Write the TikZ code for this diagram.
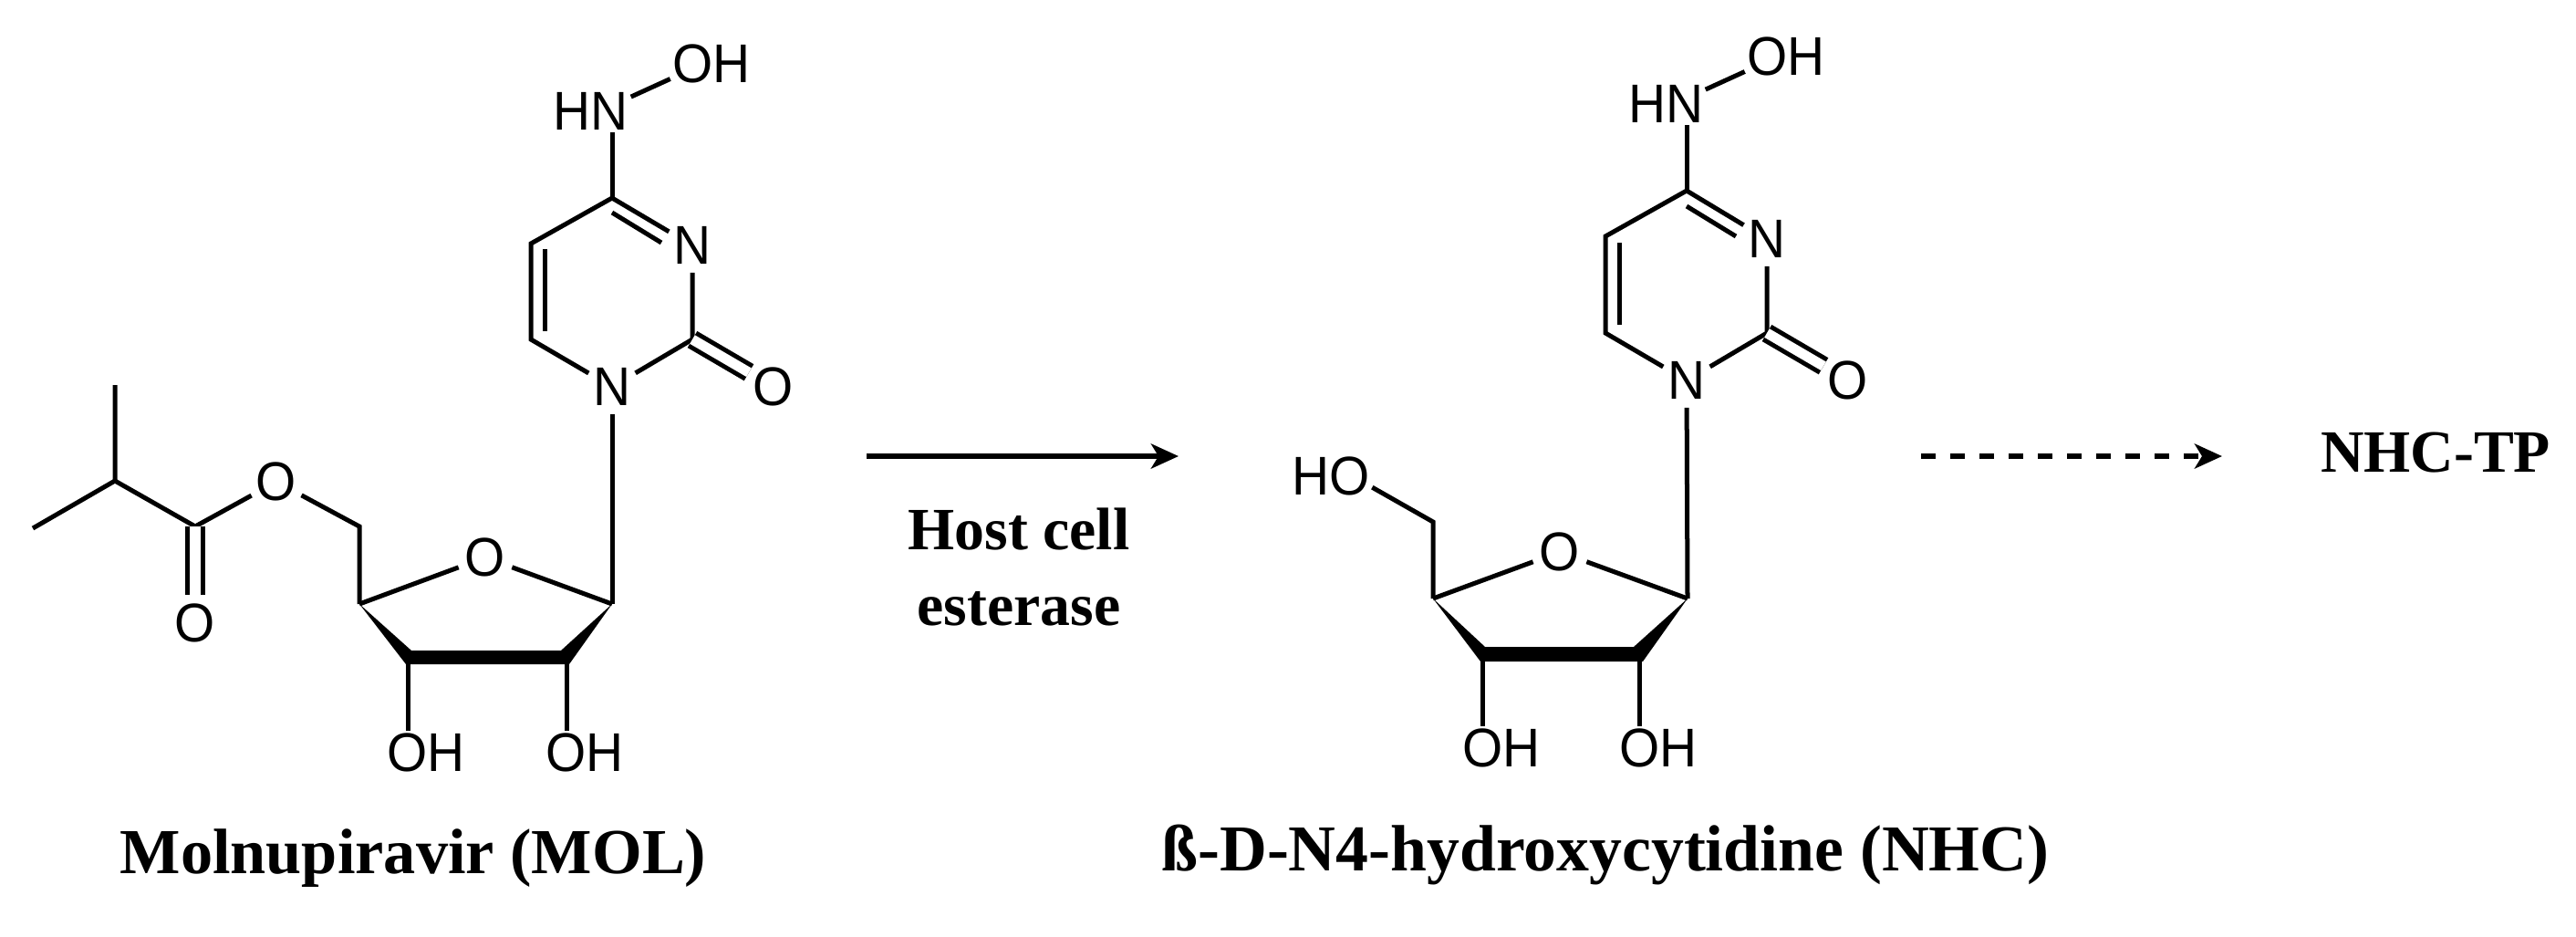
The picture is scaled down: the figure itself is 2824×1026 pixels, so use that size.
\documentclass[tikz,border=0pt]{standalone}
\usepackage{fontspec}
\setmainfont{Liberation Serif}
\newfontfamily\atomfont[FakeStretch=0.95]{Liberation Sans}
\usetikzlibrary{arrows.meta}
\tikzset{
    bond/.style={line width=0.05cm},
    dbond/.style={line width=0.05cm, double, double distance=0.11cm},
    atom/.style={circle, inner sep=0pt, minimum size=0.58cm, font=\atomfont\fontsize{17}{19}\selectfont},
    group/.style={inner sep=0.02cm, font=\atomfont\fontsize{17}{19}\selectfont},
    title/.style={anchor=base, font=\bfseries\fontsize{20}{24}\selectfont},
    enzyme/.style={anchor=base, font=\bfseries\fontsize{18.7}{22}\selectfont},
    reaction/.style={line width=0.06cm, -{Stealth[length=0.3cm, width=0.27cm, inset=0.08cm]}},
}
\begin{document}
\begin{tikzpicture}[x=0.01cm, y=-0.01cm]
    \useasboundingbox (0,0) rectangle (2824,1026);

    \node[atom] (mn1) at (671,424) {N};
    \node[atom] (mn3) at (759,269) {N};
    \node[atom] (mo2) at (848,424) {O};
    \node[group] (mhn) at (648,122) {HN};
    \node[group] (moh) at (780,70) {OH};
    \coordinate (mc2) at (759,372);
    \coordinate (mc4) at (671,217);
    \coordinate (mc5) at (582,267);
    \coordinate (mc6) at (582,372);
    \coordinate (mi3) at (725,266);
    \coordinate (mi4) at (671,233);
    \coordinate (mi5) at (597,273);
    \coordinate (mi6) at (597,363);
    \node[atom] (mor) at (532,611) {O};
    \node[atom] (moe) at (303,528) {O};
    \node[atom] (moc) at (214,683) {O};
    \node[group] (moh3) at (467,825) {OH};
    \node[group] (moh2) at (641,825) {OH};
    \coordinate (mr1) at (671,662);
    \coordinate (mr2) at (621,722);
    \coordinate (mr3) at (447,722);
    \coordinate (mr4) at (394,662);
    \coordinate (mr5) at (394,577);
    \coordinate (mco) at (214,577);
    \coordinate (mch) at (126,527);
    \coordinate (mme1) at (126,422);
    \coordinate (mme2) at (36,579);
    \node[title] (mol) at (453,957) {Molnupiravir (MOL)};

    \draw[bond] (mc4) -- (mc4 |- mhn.south);
    \draw[bond] (mhn.20) -- (moh.200);
    \draw[bond] (mn3) -- (mc4) -- (mc5) -- (mc6) -- (mn1) -- (mc2) -- (mn3);
    \draw[bond] (mi3) -- (mi4);
    \draw[bond] (mi5) -- (mi6);
    \draw[dbond] (mc2) -- (mo2);
    \draw[bond] (mn1) -- (mr1);
    \draw[bond] (mor) -- (mr1);
    \draw[bond] (mor) -- (mr4);
    \draw[bond] (mr4) -- (mr5) -- (moe);
    \draw[bond] (moe) -- (mco) -- (mch) -- (mme1);
    \draw[bond] (mch) -- (mme2);
    \draw[dbond] (mco) -- (moc);
    \draw[bond] (mr3) -- (mr3 |- moh3.north);
    \draw[bond] (mr2) -- (mr2 |- moh2.north);
    \fill (mr4) -- (451,713) -- (615,713) -- (mr1) -- (624,728) -- (445,728) -- cycle;

    \coordinate (ea) at (950,500);
    \coordinate (eb) at (1292,500);
    \draw[reaction] (ea) -- (eb);
    \node[enzyme] (host) at (1117,602) {Host cell};
    \node[enzyme] (esterase) at (1117,685) {esterase};

    \node[atom] (hn1) at (1849,417) {N};
    \node[atom] (hn3) at (1937,262) {N};
    \node[atom] (ho2) at (2026,417) {O};
    \node[group] (hhn) at (1826,114) {HN};
    \node[group] (hoh) at (1958,62) {OH};
    \coordinate (hc2) at (1937,365);
    \coordinate (hc4) at (1849,209);
    \coordinate (hc5) at (1760,259);
    \coordinate (hc6) at (1760,365);
    \coordinate (hi3) at (1903,259);
    \coordinate (hi4) at (1849,226);
    \coordinate (hi5) at (1775,266);
    \coordinate (hi6) at (1775,356);
    \node[atom] (hor) at (1710,605) {O};
    \node[group] (hho) at (1459,522) {HO};
    \node[group] (hoh3) at (1646,820) {OH};
    \node[group] (hoh2) at (1818,820) {OH};
    \coordinate (hr1) at (1850,656);
    \coordinate (hr2) at (1797,716);
    \coordinate (hr3) at (1625,716);
    \coordinate (hr4) at (1571,656);
    \coordinate (hr5) at (1571,572);
    \node[title, font=\bfseries\fontsize{20.4}{24}\selectfont] (nhc) at (1760,954) {ß-D-N4-hydroxycytidine (NHC)};

    \draw[bond] (hc4) -- (hc4 |- hhn.south);
    \draw[bond] (hhn.20) -- (hoh.200);
    \draw[bond] (hn3) -- (hc4) -- (hc5) -- (hc6) -- (hn1) -- (hc2) -- (hn3);
    \draw[bond] (hi3) -- (hi4);
    \draw[bond] (hi5) -- (hi6);
    \draw[dbond] (hc2) -- (ho2);
    \draw[bond] (hn1) -- (hr1);
    \draw[bond] (hor) -- (hr1);
    \draw[bond] (hor) -- (hr4);
    \draw[bond] (hr4) -- (hr5) -- (hho.-15);
    \draw[bond] (hr3) -- (hr3 |- hoh3.north);
    \draw[bond] (hr2) -- (hr2 |- hoh2.north);
    \fill (hr4) -- (1628,709) -- (1791,709) -- (hr1) -- (1801,725) -- (1623,725) -- cycle;

    \coordinate (da) at (2106,500);
    \coordinate (db) at (2436,500);
    \draw[reaction, dash pattern=on 0.16cm off 0.16cm] (da) -- (db);
    \node[enzyme] (tp) at (2670,517) {NHC-TP};
\end{tikzpicture}
\end{document}
